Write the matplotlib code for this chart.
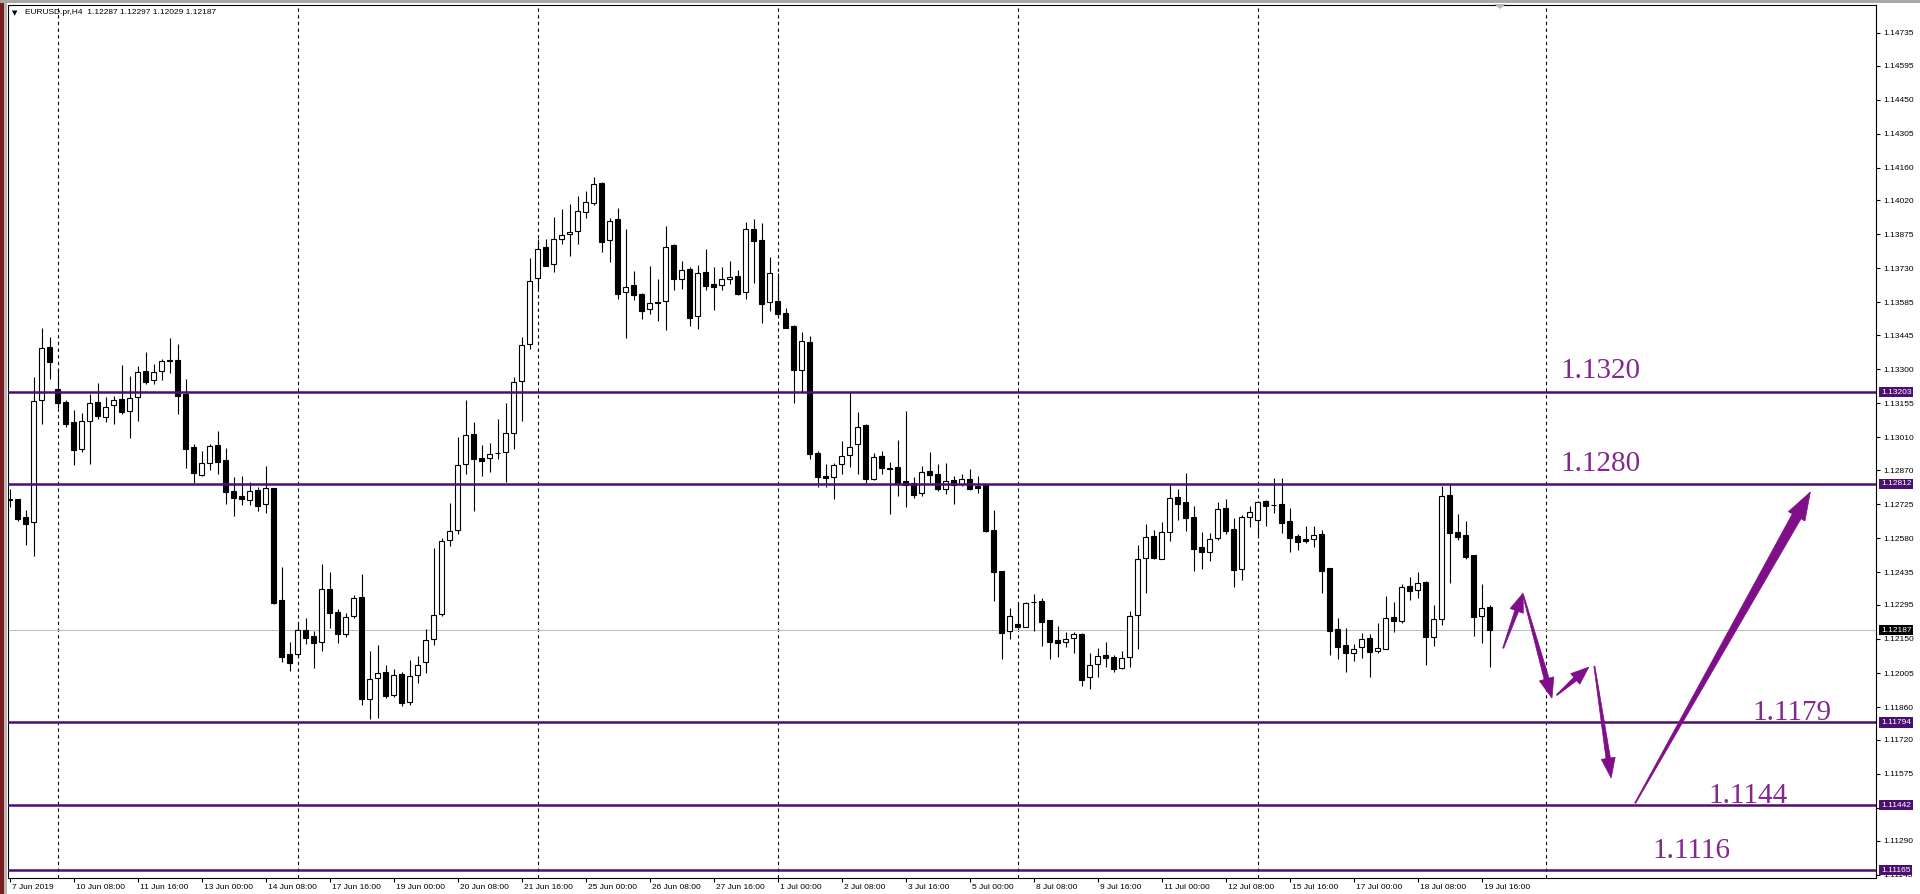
import matplotlib
matplotlib.use("Agg")
import matplotlib.pyplot as plt
import matplotlib.transforms as mtransforms
from matplotlib.patches import Polygon, Rectangle
import numpy as np

plt.rcParams['font.family'] = ['Liberation Sans', 'DejaVu Sans']

# EURUSD H4, 7 Jun 2019 00:00 .. 19 Jul 2019 20:00 (bar index 0..185)
opens = [
    1.12747, 1.12745, 1.12669, 1.12647, 1.13167, 1.13393, 1.13214, 1.13160, 1.13075, 1.12961,
    1.13081, 1.13159, 1.13098, 1.13146, 1.13173, 1.13123, 1.13180, 1.13292, 1.13253, 1.13291,
    1.13338, 1.13338, 1.13193, 1.12968, 1.12850, 1.12902, 1.12975, 1.12912, 1.12779, 1.12758,
    1.12744, 1.12784, 1.12724, 1.12792, 1.12315, 1.12086, 1.12085, 1.12187, 1.12161, 1.12136,
    1.12362, 1.12264, 1.12173, 1.12247, 1.12329, 1.11894, 1.11982, 1.12008, 1.11910, 1.11999,
    1.11881, 1.11996, 1.12052, 1.12148, 1.12255, 1.12572, 1.12615, 1.12896, 1.13022, 1.12920,
    1.12920, 1.12941, 1.12946, 1.13027, 1.13249, 1.13406, 1.13688, 1.13820, 1.13747, 1.13854,
    1.13877, 1.13888, 1.13972, 1.14010, 1.14094, 1.13850, 1.13941, 1.13628, 1.13658, 1.13619,
    1.13555, 1.13585, 1.13590, 1.13830, 1.13683, 1.13726, 1.13526, 1.13713, 1.13662, 1.13658,
    1.13683, 1.13696, 1.13628, 1.13896, 1.13850, 1.13585, 1.13590, 1.13538, 1.13484, 1.13298,
    1.13415, 1.12942, 1.12845, 1.12841, 1.12895, 1.12935, 1.12982, 1.13063, 1.12831, 1.12929,
    1.12878, 1.12882, 1.12822, 1.12814, 1.12771, 1.12866, 1.12852, 1.12791, 1.12827, 1.12810,
    1.12831, 1.12803, 1.12808, 1.12616, 1.12439, 1.12184, 1.12213, 1.12203, 1.12309, 1.12312,
    1.12231, 1.12146, 1.12136, 1.12153, 1.12173, 1.11987, 1.12042, 1.12082, 1.12073, 1.12028,
    1.12072, 1.12251, 1.12497, 1.12588, 1.12492, 1.12605, 1.12754, 1.12733, 1.12669, 1.12541,
    1.12522, 1.12582, 1.12707, 1.12617, 1.12450, 1.12671, 1.12659, 1.12738, 1.12723, 1.12725,
    1.12653, 1.12589, 1.12576, 1.12578, 1.12598, 1.12453, 1.12191, 1.12124, 1.12092, 1.12114,
    1.12153, 1.12100, 1.12109, 1.12245, 1.12227, 1.12376, 1.12360, 1.12393, 1.12160, 1.12237,
    1.12764, 1.12606, 1.12593, 1.12507, 1.12249, 1.12287,
]
highs = [
    1.12788, 1.12745, 1.12700, 1.13265, 1.13476, 1.13437, 1.13299, 1.13169, 1.13126, 1.13112,
    1.13193, 1.13240, 1.13183, 1.13186, 1.13317, 1.13271, 1.13314, 1.13372, 1.13321, 1.13342,
    1.13433, 1.13407, 1.13257, 1.12980, 1.12951, 1.12981, 1.13037, 1.12963, 1.12840, 1.12845,
    1.12818, 1.12799, 1.12889, 1.12792, 1.12458, 1.12139, 1.12222, 1.12238, 1.12183, 1.12468,
    1.12434, 1.12276, 1.12259, 1.12336, 1.12427, 1.12099, 1.12124, 1.12038, 1.12021, 1.12008,
    1.12060, 1.12077, 1.12194, 1.12538, 1.12580, 1.12730, 1.13011, 1.13169, 1.13074, 1.12975,
    1.12984, 1.13088, 1.13155, 1.13265, 1.13436, 1.13773, 1.13857, 1.13855, 1.13949, 1.13982,
    1.14003, 1.14037, 1.14058, 1.14121, 1.14097, 1.13945, 1.13986, 1.13898, 1.13719, 1.13624,
    1.13740, 1.13685, 1.13911, 1.13834, 1.13760, 1.13737, 1.13743, 1.13813, 1.13734, 1.13736,
    1.13761, 1.13723, 1.13928, 1.13939, 1.13923, 1.13777, 1.13709, 1.13561, 1.13487, 1.13460,
    1.13440, 1.12952, 1.12895, 1.12899, 1.12994, 1.13203, 1.13117, 1.13067, 1.12942, 1.12952,
    1.12903, 1.12999, 1.13122, 1.12842, 1.12886, 1.12947, 1.12896, 1.12899, 1.12845, 1.12852,
    1.12875, 1.12845, 1.12811, 1.12699, 1.12439, 1.12281, 1.12298, 1.12307, 1.12342, 1.12325,
    1.12231, 1.12207, 1.12181, 1.12180, 1.12177, 1.12090, 1.12113, 1.12136, 1.12082, 1.12099,
    1.12269, 1.12549, 1.12640, 1.12615, 1.12649, 1.12811, 1.12789, 1.12858, 1.12718, 1.12606,
    1.12602, 1.12733, 1.12745, 1.12667, 1.12679, 1.12717, 1.12738, 1.12743, 1.12835, 1.12835,
    1.12707, 1.12598, 1.12632, 1.12632, 1.12615, 1.12453, 1.12238, 1.12195, 1.12129, 1.12174,
    1.12171, 1.12218, 1.12333, 1.12306, 1.12384, 1.12414, 1.12434, 1.12397, 1.12295, 1.12802,
    1.12811, 1.12683, 1.12653, 1.12508, 1.12384, 1.12297,
]
lows = [
    1.12714, 1.12654, 1.12551, 1.12505, 1.13068, 1.13258, 1.13133, 1.13055, 1.12893, 1.12948,
    1.12897, 1.13086, 1.13076, 1.13068, 1.13108, 1.13008, 1.13081, 1.13238, 1.13238, 1.13254,
    1.13285, 1.13110, 1.12880, 1.12815, 1.12846, 1.12872, 1.12855, 1.12727, 1.12676, 1.12723,
    1.12723, 1.12696, 1.12688, 1.12299, 1.12053, 1.12015, 1.12077, 1.12127, 1.12028, 1.12100,
    1.12198, 1.12131, 1.12160, 1.12241, 1.11870, 1.11807, 1.11812, 1.11897, 1.11901, 1.11864,
    1.11869, 1.11964, 1.12004, 1.12124, 1.12248, 1.12548, 1.12596, 1.12852, 1.12697, 1.12846,
    1.12863, 1.12916, 1.12821, 1.12961, 1.13079, 1.13388, 1.13644, 1.13740, 1.13716, 1.13834,
    1.13783, 1.13835, 1.13946, 1.14002, 1.13801, 1.13759, 1.13598, 1.13435, 1.13594, 1.13516,
    1.13536, 1.13507, 1.13469, 1.13636, 1.13644, 1.13483, 1.13470, 1.13638, 1.13554, 1.13639,
    1.13662, 1.13618, 1.13601, 1.13669, 1.13499, 1.13550, 1.13533, 1.13474, 1.13158, 1.13203,
    1.12916, 1.12800, 1.12797, 1.12746, 1.12852, 1.12885, 1.12852, 1.12817, 1.12827, 1.12852,
    1.12682, 1.12761, 1.12712, 1.12749, 1.12761, 1.12814, 1.12783, 1.12767, 1.12724, 1.12804,
    1.12785, 1.12771, 1.12606, 1.12314, 1.12066, 1.12152, 1.12196, 1.12199, 1.12186, 1.12118,
    1.12064, 1.12075, 1.12117, 1.12089, 1.11951, 1.11935, 1.11989, 1.12032, 1.12009, 1.12023,
    1.12029, 1.12109, 1.12347, 1.12491, 1.12492, 1.12569, 1.12657, 1.12612, 1.12441, 1.12450,
    1.12482, 1.12572, 1.12598, 1.12373, 1.12401, 1.12629, 1.12595, 1.12633, 1.12689, 1.12603,
    1.12522, 1.12529, 1.12561, 1.12544, 1.12347, 1.12082, 1.12065, 1.12011, 1.12058, 1.12070,
    1.11989, 1.12089, 1.12106, 1.12181, 1.12220, 1.12316, 1.12326, 1.12039, 1.12122, 1.12210,
    1.12390, 1.12572, 1.12490, 1.12163, 1.12134, 1.12029,
]
closes = [
    1.12742, 1.12661, 1.12642, 1.13163, 1.13389, 1.13329, 1.13157, 1.13068, 1.12956, 1.13078,
    1.13155, 1.13102, 1.13140, 1.13167, 1.13119, 1.13176, 1.13287, 1.13247, 1.13287, 1.13334,
    1.13334, 1.13187, 1.12961, 1.12859, 1.12899, 1.12973, 1.12906, 1.12778, 1.12752, 1.12748,
    1.12779, 1.12718, 1.12792, 1.12305, 1.12075, 1.12049, 1.12187, 1.12156, 1.12131, 1.12362,
    1.12259, 1.12170, 1.12244, 1.12323, 1.11893, 1.11979, 1.12004, 1.11908, 1.11995, 1.11876,
    1.11991, 1.12040, 1.12144, 1.12251, 1.12566, 1.12610, 1.12890, 1.13018, 1.12916, 1.12910,
    1.12940, 1.12943, 1.13027, 1.13244, 1.13402, 1.13675, 1.13811, 1.13742, 1.13854, 1.13871,
    1.13885, 1.13973, 1.14012, 1.14088, 1.13844, 1.13933, 1.13622, 1.13649, 1.13615, 1.13550,
    1.13581, 1.13581, 1.13820, 1.13683, 1.13722, 1.13520, 1.13709, 1.13656, 1.13652, 1.13683,
    1.13693, 1.13622, 1.13896, 1.13845, 1.13580, 1.13709, 1.13534, 1.13477, 1.13298, 1.13420,
    1.12937, 1.12842, 1.12835, 1.12891, 1.12929, 1.12970, 1.13055, 1.12834, 1.12925, 1.12878,
    1.12876, 1.12814, 1.12805, 1.12763, 1.12861, 1.12851, 1.12791, 1.12822, 1.12805, 1.12831,
    1.12791, 1.12795, 1.12609, 1.12435, 1.12177, 1.12250, 1.12199, 1.12302, 1.12308, 1.12224,
    1.12139, 1.12131, 1.12149, 1.12171, 1.11975, 1.12038, 1.12076, 1.12070, 1.12022, 1.12067,
    1.12247, 1.12490, 1.12583, 1.12494, 1.12606, 1.12750, 1.12727, 1.12667, 1.12535, 1.12522,
    1.12578, 1.12706, 1.12610, 1.12446, 1.12669, 1.12693, 1.12733, 1.12716, 1.12721, 1.12646,
    1.12582, 1.12565, 1.12569, 1.12592, 1.12441, 1.12184, 1.12117, 1.12092, 1.12106, 1.12149,
    1.12096, 1.12110, 1.12238, 1.12228, 1.12370, 1.12356, 1.12389, 1.12160, 1.12234, 1.12760,
    1.12603, 1.12583, 1.12500, 1.12245, 1.12282, 1.12187,
]

# time axis labels every 8 bars
time_ticks = list(range(0, 186, 8))
time_labels = ["7 Jun 2019", "10 Jun 08:00", "11 Jun 16:00", "13 Jun 00:00", "14 Jun 08:00",
               "17 Jun 16:00", "19 Jun 00:00", "20 Jun 08:00", "21 Jun 16:00", "25 Jun 00:00",
               "26 Jun 08:00", "27 Jun 16:00", "1 Jul 00:00", "2 Jul 08:00", "3 Jul 16:00",
               "5 Jul 00:00", "8 Jul 08:00", "9 Jul 16:00", "11 Jul 00:00", "12 Jul 08:00",
               "15 Jul 16:00", "17 Jul 00:00", "18 Jul 08:00", "19 Jul 16:00"]
# week separators (Monday 00:00)
separators = [6, 36, 66, 96, 126, 156, 192]

price_ticks = [1.14735, 1.14595, 1.14450, 1.14305, 1.14160, 1.14020, 1.13875, 1.13730,
               1.13585, 1.13445, 1.13300, 1.13155, 1.13010, 1.12870, 1.12725, 1.12580,
               1.12435, 1.12295, 1.12150, 1.12005, 1.11860, 1.11720, 1.11575, 1.11430,
               1.11290, 1.11145]

levels = [1.13203, 1.12812, 1.11794, 1.11442, 1.11165]
last_price = 1.12187

# analyst notes: text, bar position, price (baseline)
notes = ["1.1320", "1.1280", "1.1179", "1.1144", "1.1116"]
note_x = [193.9, 193.9, 217.8, 212.3, 205.4]
note_y = [1.13263, 1.12866, 1.11804, 1.11450, 1.11216]

# hand drawn arrows: tail (bar, price) -> tip (bar, price)
arrow_tail = [(186.7, 1.12111), (189.2, 1.12337), (193.4, 1.11911), (198.1, 1.12034), (203.2, 1.11450)]
arrow_tip = [(189.2, 1.12346), (192.8, 1.11898), (197.4, 1.12030), (200.2, 1.11557), (225.1, 1.12777)]
arrow_size = [(1, 4, 19, 14), (1, 5, 20, 15), (1, 4.5, 18, 14), (1, 4.5, 20, 14), (1, 10, 28, 19)]

LEVEL_C = '#4b0f72'
NOTE_C = '#83288f'
ARROW_C = '#7e0f88'

W, H = 1920, 894
fig = plt.figure(figsize=(W / 100, H / 100), dpi=100, facecolor='white')

# window frame bits
fig.patches.append(Rectangle((0, 0), 4 / W, 1, transform=fig.transFigure, fc='#7a1f1f', ec='none'))
fig.patches.append(Rectangle((4 / W, 0), 3 / W, 1, transform=fig.transFigure, fc='#b8b8b8', ec='none'))
fig.patches.append(Rectangle((0, 1 - 3 / H), 1, 3 / H, transform=fig.transFigure, fc='#a8a8a8', ec='none'))

ax = fig.add_axes([8 / W, (H - 878) / H, (1876 - 8) / W, (878 - 5) / H])
ax.set_facecolor('white')
ax.set_xlim(-0.19, 233.3)
ax.set_ylim(1.11131, 1.14853)

o = np.array(opens)
h = np.array(highs)
l = np.array(lows)
c = np.array(closes)
x = np.arange(len(o))
up = c >= o

# candles
ax.vlines(x, l, h, color='black', lw=0.8, zorder=2)
bottom = np.minimum(o, c)
height = np.maximum(np.abs(c - o), 0.000015)
ax.bar(x[up], height[up], bottom=bottom[up], width=0.62, facecolor='white',
       edgecolor='black', linewidth=0.8, zorder=3)
ax.bar(x[~up], height[~up], bottom=bottom[~up], width=0.62, facecolor='black',
       edgecolor='black', linewidth=0.8, zorder=3)

# period separators and current price
for s in separators:
    ax.axvline(s, color='black', lw=0.8, ls=(0, (3, 3)), zorder=1)
ax.axhline(last_price, color='#c0c0c0', lw=0.8, zorder=1)

# horizontal levels
for lv in levels:
    ax.axhline(lv, color=LEVEL_C, lw=1.8, zorder=5)

# axes look
for sp in ax.spines.values():
    sp.set_color('black')
    sp.set_linewidth(0.8)
ax.yaxis.tick_right()
ax.set_yticks(price_ticks)
ax.set_yticklabels([f"{p:.5f}" for p in price_ticks])
ax.set_xticks(time_ticks)
ax.set_xticklabels(time_labels)
ax.tick_params(axis='y', direction='out', length=3, width=0.8, pad=2, labelsize=6, colors='black')
ax.tick_params(axis='x', direction='out', length=3, width=0.8, pad=1, labelsize=6, colors='black')
shift = mtransforms.ScaledTranslation(2 / 100, 0, fig.dpi_scale_trans)
for lab in ax.get_xticklabels():
    lab.set_horizontalalignment('left')
    lab.set_transform(lab.get_transform() + shift)

# price boxes on the right scale
bx = 1.0 + 5 / 1868
for lv in levels:
    ax.text(bx, lv, f"{lv:.5f}", transform=ax.get_yaxis_transform(), ha='left', va='center',
            color='white', fontsize=6, zorder=10, clip_on=False,
            bbox=dict(boxstyle='square,pad=0.2', fc=LEVEL_C, ec='none'))
ax.text(bx, last_price, f"{last_price:.5f}", transform=ax.get_yaxis_transform(), ha='left',
        va='center', color='white', fontsize=6, zorder=10, clip_on=False,
        bbox=dict(boxstyle='square,pad=0.2', fc='black', ec='none'))

# notes
for t, nx, ny in zip(notes, note_x, note_y):
    ax.text(nx, ny, t, color=NOTE_C, fontsize=21, family=['Liberation Serif', 'DejaVu Serif'],
            ha='left', va='baseline', zorder=8)


def draw_arrow(p0, p1, size):
    w0, w1, hl, hw = size
    a = ax.transData.transform(p0)
    b = ax.transData.transform(p1)
    d = b - a
    u = d / np.hypot(*d)
    n = np.array([-u[1], u[0]])
    hb = b - u * hl
    pts = [a + n * w0 / 2, hb + n * w1 / 2, hb + n * hw / 2, b,
           hb - n * hw / 2, hb - n * w1 / 2, a - n * w0 / 2]
    pts = ax.transData.inverted().transform(np.array(pts))
    ax.add_patch(Polygon(pts, closed=True, fc=ARROW_C, ec=ARROW_C, lw=0.5, zorder=9))


for p0, p1, sz in zip(arrow_tail, arrow_tip, arrow_size):
    draw_arrow(p0, p1, sz)

# header line
fig.text(12 / W, 1 - 13 / H, '\u25bc', fontsize=5, va='center', ha='left', family='DejaVu Sans')
fig.text(25 / W, 1 - 13 / H, 'EURUSD.pr,H4  1.12287 1.12297 1.12029 1.12187', fontsize=6,
         va='center', ha='left')
# chart shift marker
fig.patches.append(Polygon([(1494 / W, 1 - 4 / H), (1506 / W, 1 - 4 / H), (1500 / W, 1 - 9 / H)],
                           closed=True, transform=fig.transFigure, fc='#b8b8b8', ec='none'))

fig.savefig('out.png', dpi=100)
